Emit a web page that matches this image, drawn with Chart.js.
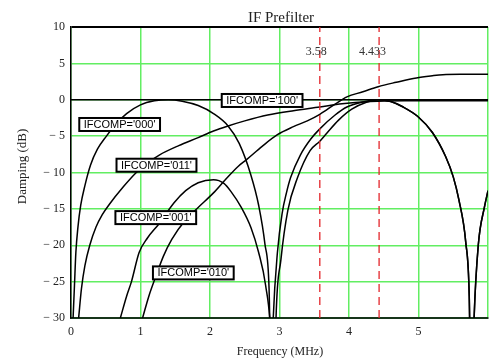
<!DOCTYPE html>
<html>
<head>
<meta charset="utf-8">
<title>IF Prefilter</title>
<script src="https://cdn.jsdelivr.net/npm/chart.js@4.4.1/dist/chart.umd.min.js"></script>
<style>
  html, body { margin: 0; padding: 0; background: #fff; overflow: hidden; }
  #wrap { width: 495px; height: 360px; }
</style>
</head>
<body>
<div id="wrap"><canvas id="prefilter" width="495" height="360"></canvas></div>
<script>
// Filter response per IFCOMP setting: frequency (MHz) and damping (dB)
const freq000 = [0.03, 0.05, 0.07, 0.1, 0.14, 0.2, 0.28, 0.38, 0.51, 0.65, 0.8, 1.0, 1.2, 1.4, 1.6, 1.83, 2.05, 2.26, 2.42, 2.59, 2.7, 2.79, 2.85, 2.88, 2.91, 2.97, 3.04, 3.1, 3.16, 3.3, 3.45, 3.58, 3.8, 3.97, 4.2, 4.42, 4.6, 4.78, 4.99, 5.2, 5.39, 5.5, 5.58, 5.68, 5.73, 5.76, 5.8, 5.86, 5.95, 6.0];
const damp000 = [-30, -25.5, -21, -17.5, -14.5, -11.8, -9, -6.8, -5, -3.3, -1.9, -0.7, -0.15, 0, -0.2, -0.8, -1.9, -3.6, -6, -10.4, -14.5, -19.8, -26, -40, -30, -21, -15.5, -12.8, -10.7, -7.6, -5.4, -4.0, -2.1, -1.0, -0.3, 0, -0.25, -1.0, -2.3, -4.5, -7.8, -10.6, -13.7, -19.6, -27, -45, -30, -20, -14.7, -12.5];

const freq001 = [0.71, 0.8, 0.87, 0.98, 1.1, 1.27, 1.48, 1.65, 1.83, 2.05, 2.2, 2.3, 2.45, 2.59, 2.7, 2.8, 2.88, 2.92, 2.95, 3.02, 3.12, 3.26, 3.44, 3.58, 3.68, 3.85, 4.04, 4.25, 4.42, 4.6, 4.78, 4.99, 5.2, 5.39, 5.5, 5.58, 5.68, 5.73, 5.76, 5.8, 5.86, 5.95, 6.0];
const damp001 = [-30, -27, -25, -21, -19, -17, -14.2, -12.5, -11.4, -11, -11.5, -12.6, -14.8, -17.6, -21, -25.5, -33, -45, -30, -22, -15.2, -10.7, -7.0, -5.7, -4.6, -2.8, -1.3, -0.35, 0, -0.25, -1.0, -2.3, -4.5, -7.8, -10.6, -13.7, -19.6, -27, -45, -30, -20, -14.7, -12.5];

const freq010 = [1.03, 1.12, 1.22, 1.33, 1.45, 1.65, 1.83, 2.05, 2.22, 2.4, 2.53, 2.75, 2.97, 3.2, 3.4, 3.58, 3.8, 3.97, 4.2, 4.42, 4.68, 4.97, 5.2, 5.35, 5.6, 6.0];
const damp010 = [-30, -27, -24.3, -21.5, -19.2, -16.5, -14.8, -12.8, -11, -9.2, -8.2, -6.4, -4.8, -3.7, -2.9, -2.0, -0.6, 0.4, 1.1, 1.8, 2.4, 3.0, 3.3, 3.45, 3.5, 3.5];

const freq011 = [0.11, 0.15, 0.2, 0.27, 0.36, 0.45, 0.55, 0.75, 0.94, 1.1, 1.27, 1.55, 1.83, 2.05, 2.26, 2.5, 2.83, 3.2, 3.58, 3.9, 4.3, 4.8, 6.0];
const damp011 = [-30, -26, -22.8, -20, -17.5, -15.8, -14.4, -12, -10, -8.7, -7.6, -6.3, -5.2, -4.3, -3.6, -2.9, -2.1, -1.5, -1.0, -0.55, -0.25, -0.15, -0.15];

const freq100 = [0, 6];
const damp100 = [0, 0];

// colour subcarrier markers (MHz)
const markerFreqs = [3.58, 4.433];

const xTicks = [0, 1, 2, 3, 4, 5, 6];
const yTicks = [-30, -25, -20, -15, -10, -5, 0, 5, 10];

const serif = '"Liberation Serif", "Times New Roman", serif';
const sans = '"Liberation Sans", Arial, sans-serif';
const gridGreen = '#62ee62';

function pts(xs, ys) {
  return xs.map((x, i) => ({ x: x, y: ys[i] }));
}

function curve(name, xs, ys) {
  return {
    label: name,
    data: pts(xs, ys),
    borderColor: '#000',
    borderWidth: 1.5,
    pointRadius: 0,
    cubicInterpolationMode: 'monotone',
    fill: false
  };
}

const curves = [
  curve("IFCOMP='000'", freq000, damp000),
  curve("IFCOMP='001'", freq001, damp001),
  curve("IFCOMP='010'", freq010, damp010),
  curve("IFCOMP='011'", freq011, damp011),
  curve("IFCOMP='100'", freq100, damp100)
];

const markers = markerFreqs.map(f => ({
  label: String(f),
  data: [{ x: f, y: yTicks[0] }, { x: f, y: yTicks[yTicks.length - 1] }],
  borderColor: '#e3262b',
  borderWidth: 1.3,
  borderDash: [8, 5],
  pointRadius: 0,
  fill: false
}));

// where each IFCOMP tag sits, in axis units
const tagSpots = {
  "IFCOMP='000'": [0.70, -3.4],
  "IFCOMP='011'": [1.23, -9.0],
  "IFCOMP='001'": [1.22, -16.2],
  "IFCOMP='010'": [1.76, -23.8],
  "IFCOMP='100'": [2.75, -0.1]
};

const textPlugin = {
  id: 'prefilterText',
  afterDatasetsDraw(chart) {
    const c = chart.ctx;
    const xs = chart.scales.x;
    const ys = chart.scales.y;
    const area = chart.chartArea;
    c.save();

    // marker values above the dashed lines
    c.fillStyle = '#333';
    c.font = '12px ' + serif;
    c.textAlign = 'right';
    c.textBaseline = 'alphabetic';
    markerFreqs.forEach(f => {
      c.fillText(String(f), xs.getPixelForValue(f) + 7, 55);
    });

    // IFCOMP tags
    c.font = '11px ' + sans;
    c.textAlign = 'center';
    c.textBaseline = 'middle';
    Object.keys(tagSpots).forEach(name => {
      const px = xs.getPixelForValue(tagSpots[name][0]);
      const py = ys.getPixelForValue(tagSpots[name][1]);
      const w = c.measureText(name).width + 9;
      const h = 13;
      c.fillStyle = '#fff';
      c.fillRect(px - w / 2, py - h / 2, w, h);
      c.lineWidth = 2;
      c.strokeStyle = '#000';
      c.strokeRect(px - w / 2, py - h / 2, w, h);
      c.fillStyle = '#000';
      c.fillText(name, px, py + 0.5);
    });

    // title and axis titles
    c.fillStyle = '#222';
    c.font = '15px ' + serif;
    c.textBaseline = 'alphabetic';
    c.fillText('IF Prefilter', 281, 21.5);

    c.font = '12px ' + serif;
    c.fillText('Frequency (MHz)', 280, 355);

    c.translate(26, (area.top + area.bottom) / 2 - 6);
    c.rotate(-Math.PI / 2);
    c.font = '13px ' + serif;
    c.fillText('Damping (dB)', 0, 0);
    c.restore();
  }
};

new Chart(document.getElementById('prefilter'), {
  type: 'line',
  data: { datasets: markers.concat(curves) },
  options: {
    responsive: false,
    animation: false,
    layout: { padding: { top: 27, right: 2, bottom: 0, left: 0 } },
    plugins: {
      legend: { display: false },
      tooltip: { enabled: false }
    },
    scales: {
      x: {
        type: 'linear',
        min: xTicks[0],
        max: xTicks[xTicks.length - 1],
        afterFit(scale) { scale.height = 42; },
        afterBuildTicks(scale) { scale.ticks = xTicks.map(v => ({ value: v })); },
        ticks: {
          color: '#222',
          font: { family: serif, size: 12 },
          padding: 7,
          maxRotation: 0,
          callback: v => (v === 6 ? '' : String(v))
        },
        grid: {
          color: gridGreen,
          lineWidth: 1.5,
          drawTicks: false
        },
        border: { display: true, color: '#17351a', width: 2 }
      },
      y: {
        min: yTicks[0],
        max: yTicks[yTicks.length - 1],
        afterFit(scale) { scale.width = 71; },
        afterBuildTicks(scale) { scale.ticks = yTicks.map(v => ({ value: v })); },
        ticks: {
          color: '#222',
          font: { family: serif, size: 12 },
          padding: 6,
          callback: v => (v < 0 ? '\u2212 ' + Math.abs(v) : String(v))
        },
        grid: {
          color: ctx => (ctx.tick && ctx.tick.value === 10 ? '#000' : gridGreen),
          lineWidth: ctx => (ctx.tick && ctx.tick.value === 10 ? 2 : 1.5),
          drawTicks: false
        },
        border: { display: true, color: '#000', width: 1.5 }
      }
    }
  },
  plugins: [textPlugin]
});
</script>
</body>
</html>
